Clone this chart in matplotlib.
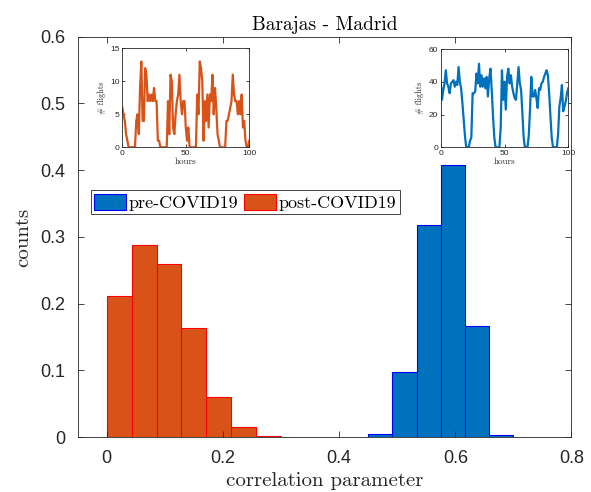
import numpy as np, matplotlib.pyplot as plt
from matplotlib.ticker import FuncFormatter

BLUE='#0072BD'; ORANGE='#D95319'; GRAY='#262626'
# histogram bins (probability normalisation)
pre_edges=[0.45,0.4917,0.5333,0.575,0.6167,0.6583,0.70]
pre_counts=[0.0055,0.098,0.3175,0.4075,0.167,0.004]
post_edges=[0,0.0429,0.0857,0.1286,0.1714,0.2143,0.2571,0.30]
post_counts=[0.211,0.288,0.2595,0.164,0.060,0.016,0.0015]
# hourly flights shown in the insets
hours=np.arange(101)
post_flights=[6,5,4,2,1,0,0,0,0,0,0,4,5,2,9,13,4,4,12,11,7,8,7,8,7,9,7,7,1,1,
              0,0,0,0,0,0,7,2,11,10,3,2,5,7,8,11,7,5,7,7,3,1,3,0,0,0,0,0,0,8,
              5,13,12,10,1,7,4,8,3,8,7,11,5,9,6,2,1,0,0,0,0,0,4,4,5,6,7,11,8,7,
              7,5,7,5,8,3,4,1,0,0,1]
pre_flights=[40,29,35,39,47,39,37,33,39,40,41,37,40,38,49,40,36,27,17,7,0,0,0,4,6,
             33,33,34,45,39,51,37,44,37,42,36,43,31,42,48,35,19,6,0,0,0,0,12,47,29,
             40,23,43,48,39,44,37,33,30,29,39,49,39,35,21,6,0,0,0,7,23,43,31,31,35,
             30,24,36,35,39,40,43,45,47,44,33,19,6,0,0,0,0,8,25,30,38,22,25,28,33,36]

def matlab_box(ax,fs,tl,pad):
    ax.tick_params(direction='in',top=True,right=True,labelsize=fs,colors=GRAY,length=tl,width=0.6,pad=pad)
    for s in ax.spines.values(): s.set_color(GRAY); s.set_linewidth(0.6)
    for t in ax.get_xticklabels()+ax.get_yticklabels(): t.set_family('Liberation Sans')

fig=plt.figure(figsize=(5.91,4.92),dpi=100)
ax=fig.add_axes([0.1315,0.1112,0.8355,0.8146])
ax.bar(pre_edges[:-1],pre_counts,width=np.diff(pre_edges),align='edge',color=BLUE,edgecolor='#0000FF',lw=0.8,label='pre-COVID19')
ax.bar(post_edges[:-1],post_counts,width=np.diff(post_edges),align='edge',color=ORANGE,edgecolor='#FF0000',lw=0.8,label='post-COVID19')
ax.set_xlim(-0.05,0.8); ax.set_ylim(0,0.6)
ax.set_xticks([0,0.2,0.4,0.6,0.8]); ax.set_yticks([0,0.1,0.2,0.3,0.4,0.5,0.6])
ax.xaxis.set_major_formatter(FuncFormatter(lambda v,p:'%g'%v)); ax.yaxis.set_major_formatter(FuncFormatter(lambda v,p:'%g'%v))
matlab_box(ax,13,4,9)
ax.set_xlabel('correlation parameter',family='cmr10',fontsize=15,color=GRAY,labelpad=4)
ax.set_ylabel('counts',family='cmr10',fontsize=15,color=GRAY,labelpad=6)
ax.set_title('Barajas - Madrid',family='cmr10',fontsize=14,color='k',pad=5)
leg=ax.legend(loc='upper left',bbox_to_anchor=(0.026,0.617),ncol=2,prop={'family':'cmr10','size':13},
              handlelength=1.75,handleheight=1.0,handletextpad=0.15,columnspacing=0.35,borderpad=0.2,
              borderaxespad=0,fancybox=False,framealpha=1,edgecolor=GRAY)
leg.get_frame().set_linewidth(0.6)

for pos,y,c,yl,yt in [([0.2069,0.7006,0.2149,0.2012],post_flights,ORANGE,15,[0,5,10,15]),
                      ([0.7457,0.7006,0.2159,0.1998],pre_flights,BLUE,60,[0,20,40,60])]:
    ia=fig.add_axes(pos); ia.plot(hours,y,color=c,lw=1.6)
    ia.set_xlim(0,100); ia.set_ylim(0,yl); ia.set_xticks([0,50,100]); ia.set_yticks(yt)
    matlab_box(ia,6,2,2)
    ia.set_xlabel('hours',family='cmr10',fontsize=6.5,color=GRAY,labelpad=0.5)
    ia.set_ylabel('# flights',family='cmr10',fontsize=6,color=GRAY,labelpad=3)

fig.savefig('out.png',dpi=100)
